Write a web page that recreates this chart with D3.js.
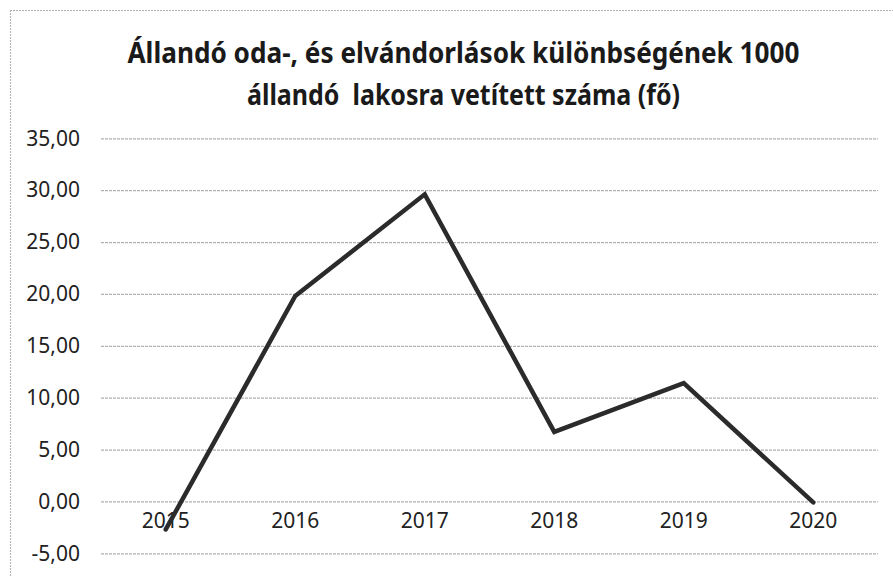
<!DOCTYPE html>
<html>
<head>
<meta charset="utf-8">
<script src="https://cdn.jsdelivr.net/npm/d3@7"></script>
<style>
  html, body { margin: 0; padding: 0; background: #fff; }
  svg { display: block; }
</style>
</head>
<body>
<svg id="chart" width="893" height="576"></svg>
<script>
const titleLines = [
  "Állandó oda-, és elvándorlások különbségének 1000",
  "állandó  lakosra vetített száma (fő)"
];
const years = ["2015", "2016", "2017", "2018", "2019", "2020"];
const values = [-2.7, 19.8, 29.6, 6.7, 11.4, -0.1];
const yTicks = [-5, 0, 5, 10, 15, 20, 25, 30, 35];

const svg = d3.select("#chart");
const W = 893, H = 576;
const plot = { left: 101, right: 878, top: 138.3, bottom: 553.3 };
const font = "'Noto Sans', 'Open Sans', sans-serif";

const locale = d3.formatLocale({ decimal: ",", thousands: " ", grouping: [3], currency: ["", ""], minus: "-" });
const fmt = locale.format(".2f");

const x = d3.scaleBand().domain(years).range([plot.left, plot.right]).padding(0);
const y = d3.scaleLinear().domain([-5, 35]).range([plot.bottom, plot.top]);

svg.append("rect").attr("width", W).attr("height", H).attr("fill", "#fff");

// chart border (top and left visible)
svg.append("line").attr("x1", 10).attr("x2", W).attr("y1", 10.5).attr("y2", 10.5)
  .attr("stroke", "#b0b0b0").attr("stroke-width", 1.2).attr("stroke-dasharray", "2,1");
svg.append("line").attr("x1", 10.5).attr("x2", 10.5).attr("y1", 10).attr("y2", H)
  .attr("stroke", "#b8b8b8").attr("stroke-width", 1.2).attr("stroke-dasharray", "2,1");

// title
const title = svg.append("g");
title.append("text").attr("x", 463.5).attr("y", 63)
  .attr("text-anchor", "middle").attr("font-family", font).attr("font-weight", "bold")
  .attr("font-size", 28.5).attr("fill", "#1a1a1a")
  .attr("textLength", 672).attr("lengthAdjust", "spacingAndGlyphs")
  .text(titleLines[0]);
title.append("text").attr("x", 463.5).attr("y", 105)
  .attr("text-anchor", "middle").attr("font-family", font).attr("font-weight", "bold")
  .attr("font-size", 28.5).attr("fill", "#1a1a1a")
  .attr("textLength", 433).attr("lengthAdjust", "spacingAndGlyphs")
  .attr("xml:space", "preserve")
  .text(titleLines[1]);

// gridlines + y labels via axis
const yAxis = d3.axisLeft(y).tickValues(yTicks).tickFormat(fmt)
  .tickSize(-(plot.right - plot.left)).tickPadding(21);
const gy = svg.append("g").attr("transform", `translate(${plot.left},0)`).call(yAxis);
gy.select(".domain").remove();
gy.selectAll(".tick line").attr("stroke", "#b0b0b0").attr("stroke-width", 1.2).attr("stroke-dasharray", "3,1");
gy.selectAll(".tick text").attr("font-family", font).attr("font-size", 21).attr("fill", "#222");

// x labels positioned below 0 line
const xAxis = d3.axisBottom(x).tickSize(0).tickPadding(12);
const gx = svg.append("g").attr("transform", `translate(0,${y(0)})`).call(xAxis);
gx.select(".domain").remove();
gx.selectAll(".tick text").attr("font-family", font).attr("font-size", 21).attr("fill", "#222");

// line
const line = d3.line().x((d, i) => x(years[i]) + x.bandwidth() / 2).y(d => y(d));
svg.append("path").datum(values).attr("d", line)
  .attr("fill", "none").attr("stroke", "#2b2b2b").attr("stroke-width", 4.5)
  .attr("stroke-linejoin", "miter").attr("stroke-linecap", "round");
</script>
</body>
</html>
